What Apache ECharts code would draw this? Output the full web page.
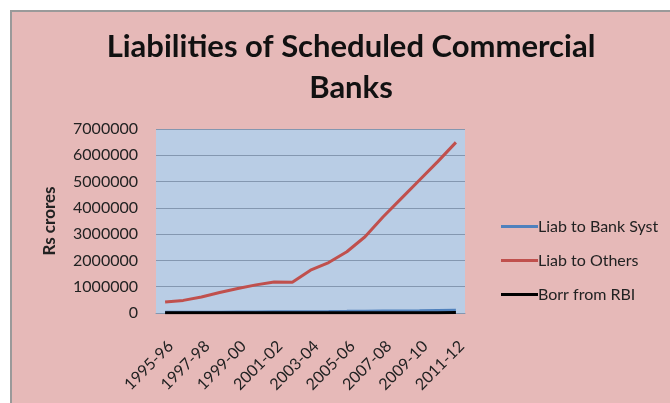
<!DOCTYPE html>
<html>
<head>
<meta charset="utf-8">
<script src="https://cdn.jsdelivr.net/npm/echarts@6/dist/echarts.min.js"></script>
<style>
  html, body { margin: 0; padding: 0; background: #fff; }
  #chart { width: 670px; height: 403px; }
</style>
</head>
<body>
<div id="chart"></div>
<script>
// Financial years on the category axis
const years = ['1995-96','1996-97','1997-98','1998-99','1999-00','2000-01','2001-02','2002-03',
  '2003-04','2004-05','2005-06','2006-07','2007-08','2008-09','2009-10','2010-11','2011-12'];

// Liabilities in Rs crores
const liabBankSyst = [24000,26000,29000,32000,36000,40000,43000,45000,50000,55000,62000,70000,80000,78000,85000,95000,105000];
const liabOthers = [420000,480000,610000,780000,930000,1070000,1180000,1170000,1630000,1920000,2330000,2900000,3660000,4360000,5060000,5760000,6490000];
const borrRBI = [8000,9000,10000,11000,10000,9000,8000,7000,6000,5000,6000,8000,9000,10000,12000,14000,18000];

const yTicks = { min: 0, max: 7000000, interval: 1000000 };

const FONT = 'Lato, "Open Sans", sans-serif';
const chart = echarts.init(document.getElementById('chart'), null, { renderer: 'canvas' });

chart.setOption({
  backgroundColor: '#ffffff',
  animation: false,
  graphic: [{
    type: 'rect',
    z: -10,
    shape: { x: 11, y: 11, width: 670, height: 403 },
    style: { fill: '#E6B9B8', stroke: '#9a9a9a', lineWidth: 2 }
  }],
  title: {
    text: 'Liabilities of Scheduled Commercial\nBanks',
    left: 346,
    top: 21,
    textAlign: 'center',
    textStyle: { fontFamily: FONT, fontWeight: 'bold', fontSize: 31, lineHeight: 41, color: '#111' }
  },
  legend: {
    orient: 'vertical',
    left: 496,
    top: 213,
    itemWidth: 37,
    itemHeight: 3,
    itemGap: 17,
    icon: 'rect',
    textStyle: { fontFamily: FONT, fontSize: 16, lineHeight: 17, color: '#222', padding: [0, 0, 0, -5] },
    data: [
      { name: 'Liab to Bank Syst', itemStyle: { color: '#4F81BD' } },
      { name: 'Liab to Others', itemStyle: { color: '#C0504D' } },
      { name: 'Borr from RBI', itemStyle: { color: '#000000' } }
    ]
  },
  grid: {
    left: 156, right: 205, top: 129, bottom: 90,
    show: true, backgroundColor: '#B9CDE5', borderWidth: 0
  },
  xAxis: {
    type: 'category',
    data: years,
    boundaryGap: true,
    axisLine: { show: true, lineStyle: { color: '#8497b0', width: 1 } },
    axisTick: { show: false },
    axisLabel: {
      interval: 1, rotate: 45, margin: 25, verticalAlign: 'top',
      fontFamily: FONT, fontSize: 16, color: '#222'
    }
  },
  yAxis: {
    type: 'value',
    min: yTicks.min, max: yTicks.max, interval: yTicks.interval,
    name: 'Rs crores',
    nameLocation: 'middle',
    nameGap: 98,
    nameTextStyle: { fontFamily: FONT, fontWeight: 'bold', fontSize: 17, color: '#222' },
    axisLine: { show: false },
    axisTick: { show: false },
    axisLabel: { margin: 18, fontFamily: FONT, fontSize: 16, color: '#222', formatter: v => String(v) },
    splitLine: { lineStyle: { color: '#8497b0', width: 1 } }
  },
  series: [
    { name: 'Liab to Bank Syst', type: 'line', data: liabBankSyst, symbol: 'none',
      lineStyle: { color: '#4F81BD', width: 3 }, itemStyle: { color: '#4F81BD' } },
    { name: 'Liab to Others', type: 'line', data: liabOthers, symbol: 'none',
      lineStyle: { color: '#C0504D', width: 3 }, itemStyle: { color: '#C0504D' } },
    { name: 'Borr from RBI', type: 'line', data: borrRBI, symbol: 'none',
      lineStyle: { color: '#000000', width: 3 }, itemStyle: { color: '#000000' } }
  ]
});
</script>
</body>
</html>
